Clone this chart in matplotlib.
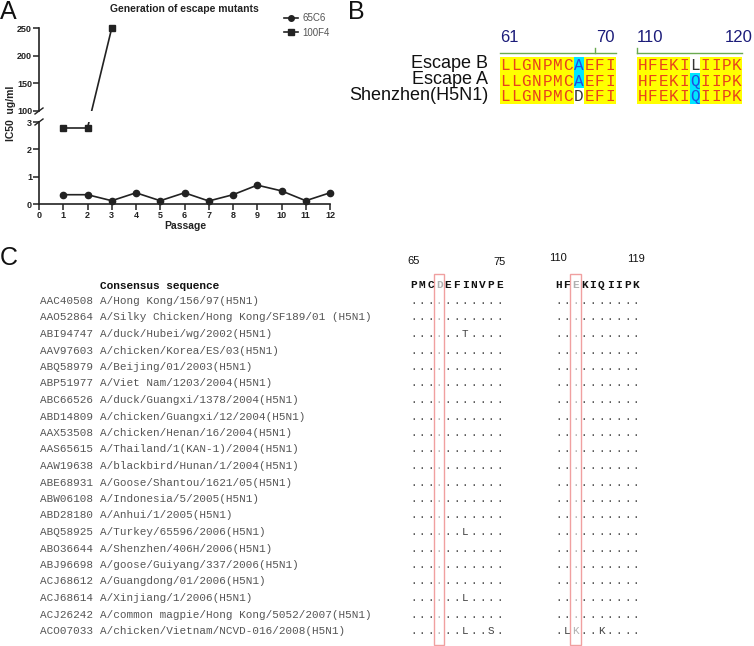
import matplotlib
matplotlib.use("Agg")
import matplotlib.pyplot as plt
from matplotlib.patches import Rectangle
from matplotlib.lines import Line2D

W, H = 754, 646

# ---- panel A data
passage = [1, 2, 3, 4, 5, 6, 7, 8, 9, 10, 11, 12]
ic50_65c6 = [0.34, 0.34, 0.12, 0.41, 0.12, 0.41, 0.11, 0.34, 0.69, 0.48, 0.12, 0.41]
passage_100f4 = [1, 2, 3]
ic50_100f4 = [2.78, 2.78, 250]
lo_ticks = [0, 1, 2, 3]
hi_ticks = [100, 150, 200, 250]

# ---- panel B data
b_names = ["Escape B", "Escape A", "Shenzhen(H5N1)"]
b_block1 = ["LLGNPMCAEFI", "LLGNPMCAEFI", "LLGNPMCDEFI"]
b_block2 = ["HFEKILIIPK", "HFEKIQIIPK", "HFEKIQIIPK"]
b_start = [61, 110]
b_ruler = [[61, 70], [110, 120]]

# ---- panel C data
consensus1 = "PMCDEFINVPE"
consensus2 = "HFEKIQIIPK"
c_start = [65, 110]
c_ruler = [[65, 75], [110, 119]]
hilite = [68, 112]
accessions = ["AAC40508", "AAO52864", "ABI94747", "AAV97603", "ABQ58979", "ABP51977",
              "ABC66526", "ABD14809", "AAX53508", "AAS65615", "AAW19638", "ABE68931",
              "ABW06108", "ABD28180", "ABQ58925", "ABO36644", "ABJ96698", "ACJ68612",
              "ACJ68614", "ACJ26242", "ACO07033"]
strains = ["A/Hong Kong/156/97(H5N1)",
           "A/Silky Chicken/Hong Kong/SF189/01 (H5N1)",
           "A/duck/Hubei/wg/2002(H5N1)",
           "A/chicken/Korea/ES/03(H5N1)",
           "A/Beijing/01/2003(H5N1)",
           "A/Viet Nam/1203/2004(H5N1)",
           "A/duck/Guangxi/1378/2004(H5N1)",
           "A/chicken/Guangxi/12/2004(H5N1)",
           "A/chicken/Henan/16/2004(H5N1)",
           "A/Thailand/1(KAN-1)/2004(H5N1)",
           "A/blackbird/Hunan/1/2004(H5N1)",
           "A/Goose/Shantou/1621/05(H5N1)",
           "A/Indonesia/5/2005(H5N1)",
           "A/Anhui/1/2005(H5N1)",
           "A/Turkey/65596/2006(H5N1)",
           "A/Shenzhen/406H/2006(H5N1)",
           "A/goose/Guiyang/337/2006(H5N1)",
           "A/Guangdong/01/2006(H5N1)",
           "A/Xinjiang/1/2006(H5N1)",
           "A/common magpie/Hong Kong/5052/2007(H5N1)",
           "A/chicken/Vietnam/NCVD-016/2008(H5N1)"]
variants1 = {2: "......T....", 14: "......L....", 18: "......L....", 20: "......L..S."}
variants2 = {20: ".LK..K...."}

SANS = ["Liberation Sans", "DejaVu Sans"]
NARROW = ["Liberation Sans Narrow", "Liberation Sans", "DejaVu Sans"]
MONO = ["Liberation Mono", "DejaVu Sans Mono"]
INK = "#222222"


def fx(x):
    return x / W


def fy(y):
    return 1 - y / H


fig = plt.figure(figsize=(W / 100, H / 100), dpi=100)

# overlay in pixel coordinates for free text
ov = fig.add_axes([0, 0, 1, 1])
ov.set_xlim(0, W)
ov.set_ylim(H, 0)
ov.axis("off")

# ================= panel A =================
ax_lo = fig.add_axes([fx(39), fy(204), 291 / W, 82 / H])
ax_hi = fig.add_axes([fx(39), fy(111), 291 / W, 83 / H])
for ax in (ax_lo, ax_hi):
    ax.set_xlim(0, 12)
    ax.set_facecolor("none")
    for s in ("top", "right"):
        ax.spines[s].set_visible(False)
    for s in ("left", "bottom"):
        ax.spines[s].set_linewidth(1.2)
        ax.spines[s].set_color(INK)
    ax.tick_params(direction="out", length=4, width=1.1, color=INK, pad=1)
    ax.set_autoscale_on(False)
ax_lo.set_ylim(0, 3)
ax_hi.set_ylim(100, 250)
ax_hi.spines["bottom"].set_visible(False)
ax_hi.tick_params(axis="x", which="both", bottom=False, labelbottom=False)

tick_kw = dict(fontweight="bold", fontfamily=NARROW, fontsize=6.5, color=INK)
ax_lo.set_xticks(range(0, 13), [str(i) for i in range(0, 13)], **tick_kw)
ax_lo.set_yticks(lo_ticks, [str(t) for t in lo_ticks], **tick_kw)
ax_hi.set_yticks(hi_ticks, [str(t) for t in hi_ticks], **tick_kw)

line_kw = dict(color=INK, lw=1.2)
ax_lo.plot(passage, ic50_65c6, marker="o", ms=4.5, clip_on=False, **line_kw)
ax_lo.plot(passage_100f4[:2], ic50_100f4[:2], marker="s", ms=4.5, clip_on=False, **line_kw)
ax_hi.plot(passage_100f4[2:], ic50_100f4[2:], marker="s", ms=4.5, clip_on=False, **line_kw)

# segment 2 -> 3 crosses the axis break: join the points in screen space
p2 = (passage_100f4[1], ic50_100f4[1])
p3 = (passage_100f4[2], ic50_100f4[2])
p3_in_lo = ax_lo.transData.inverted().transform(ax_hi.transData.transform(p3))
p2_in_hi = ax_hi.transData.inverted().transform(ax_lo.transData.transform(p2))
ax_lo.plot([p2[0], p3_in_lo[0]], [p2[1], p3_in_lo[1]], **line_kw)
ax_hi.plot([p2_in_hi[0], p3[0]], [p2_in_hi[1], p3[1]], **line_kw)

# break marks on the y axis
ax_lo.plot([-4 / 291, 4 / 291], [1 - 3 / 82, 1 + 3 / 82], transform=ax_lo.transAxes,
           clip_on=False, color=INK, lw=1)
ax_hi.plot([-4 / 291, 4 / 291], [-3 / 83, 3 / 83], transform=ax_hi.transAxes,
           clip_on=False, color=INK, lw=1)

ov.text(184, 9, "Generation of escape mutants", ha="center", va="center",
        fontsize=7.5, fontweight="bold", family=NARROW, color=INK)
ov.text(185, 226, "Passage", ha="center", va="center",
        fontsize=7.5, fontweight="bold", family=NARROW, color=INK)
ov.text(11, 113, "IC50  ug/ml", ha="center", va="center", rotation=90,
        fontsize=7.5, fontweight="bold", family=NARROW, color=INK)

handles = [Line2D([], [], marker="o", ms=4, color=INK, lw=1.2),
           Line2D([], [], marker="s", ms=4, color=INK, lw=1.2)]
fig.legend(handles, ["65C6", "100F4"], loc="upper left", bbox_to_anchor=(fx(284), fy(13)),
           frameon=False, prop={"family": NARROW, "size": 7}, labelcolor="#555555",
           handlelength=1.4, handletextpad=0.5, labelspacing=0.5, borderpad=0,
           borderaxespad=0)

# ================= panel B =================
YELLOW, CYAN, WHITE = "#ffff00", "#00e6ff", "#ffffff"
letter_col = {YELLOW: "#e8421c", CYAN: "#1f4fe0", WHITE: "#333333"}
cw, rh, top = 10.5, 15.8, 56.7
b_lefts = [500, 637]
b_label_cols = [[0, 9.2], [0, 8.4]]
for bi, seqs in enumerate([b_block1, b_block2]):
    n = len(seqs[0])
    ax = fig.add_axes([fx(b_lefts[bi]), fy(top + 3 * rh), n * cw / W, 3 * rh / H])
    ax.set_xlim(0, n)
    ax.set_ylim(3, 0)
    ax.axis("off")
    for c in range(n):
        col = [s[c] for s in seqs]
        major = max(set(col), key=col.count)
        for r, ch in enumerate(col):
            if len(set(col)) == 1:
                fc = YELLOW
            elif ch == major:
                fc = CYAN
            else:
                fc = WHITE
            ax.add_patch(Rectangle((c, r), 1, 1, facecolor=fc, lw=0))
            ax.text(c + 0.5, r + 0.55, ch, ha="center", va="center", family=MONO,
                    fontsize=11.5, color=letter_col[fc])
    ax.plot([0, n], [-0.21, -0.21], color="#6aaa50", lw=1, clip_on=False)
    for p, lc in zip(b_ruler[bi], b_label_cols[bi]):
        col = p - b_start[bi]
        if p % 10 == 0 and col < n:
            ax.plot([col, col], [-0.21, -0.55], color="#6aaa50", lw=1, clip_on=False)
        ax.text(lc, -0.95, str(p), ha="left", va="baseline", family=SANS,
                fontsize=12, color="#1c1c7a")

for r, name in enumerate(b_names):
    ov.text(488, top + rh * (r + 0.5) - 1, name, ha="right", va="center",
            family=SANS, fontsize=13, color="#111111")

# ================= panel C =================
x0s = [413.3, 558.3]
step = 8.62
row0, row_h = 301, 16.5
ov.text(100, 286, "Consensus sequence", ha="left", va="center", family=MONO,
        fontweight="bold", fontsize=8, color="#111111")
for k, (acc, st) in enumerate(zip(accessions, strains)):
    y = row0 + k * row_h
    ov.text(40, y, acc, ha="left", va="center", family=MONO, fontsize=7.9, color="#555555")
    ov.text(100, y, st, ha="left", va="center", family=MONO, fontsize=7.9, color="#555555")

ruler_y = [[260.5, 262], [258, 259]]
for bi, (cons, var) in enumerate([(consensus1, variants1), (consensus2, variants2)]):
    n = len(cons)
    x0 = x0s[bi]
    hcol = hilite[bi] - c_start[bi]
    for c, ch in enumerate(cons):
        ov.text(x0 + c * step, 284.5, ch, ha="center", va="center", family=MONO,
                fontweight="bold", fontsize=8, color="#b0b0b0" if c == hcol else "#111111")
    for k in range(len(accessions)):
        s = var.get(k, "." * n)
        y = row0 + k * row_h
        for c, ch in enumerate(s):
            ov.text(x0 + c * step, y, ch, ha="center", va="center", family=MONO,
                    fontsize=7.9, color="#b0b0b0" if c == hcol else "#444444")
    hx = x0 + hcol * step
    ov.add_patch(Rectangle((hx - 5.3, 274), 10.6, 371, fill=False,
                           edgecolor="#f0a0a0", lw=1))
    for p, yy in zip(c_ruler[bi], ruler_y[bi]):
        ov.text(x0 + (p - c_start[bi]) * step, yy, str(p), ha="center", va="center",
                family=SANS, fontsize=8, color="#111111")

# panel letters
ov.text(0, 12, "A", ha="left", va="center", family=SANS, fontsize=18, color="#111111")
ov.text(348, 12, "B", ha="left", va="center", family=SANS, fontsize=18, color="#111111")
ov.text(0, 258, "C", ha="left", va="center", family=SANS, fontsize=18, color="#111111")

fig.savefig("out.png", dpi=100)
